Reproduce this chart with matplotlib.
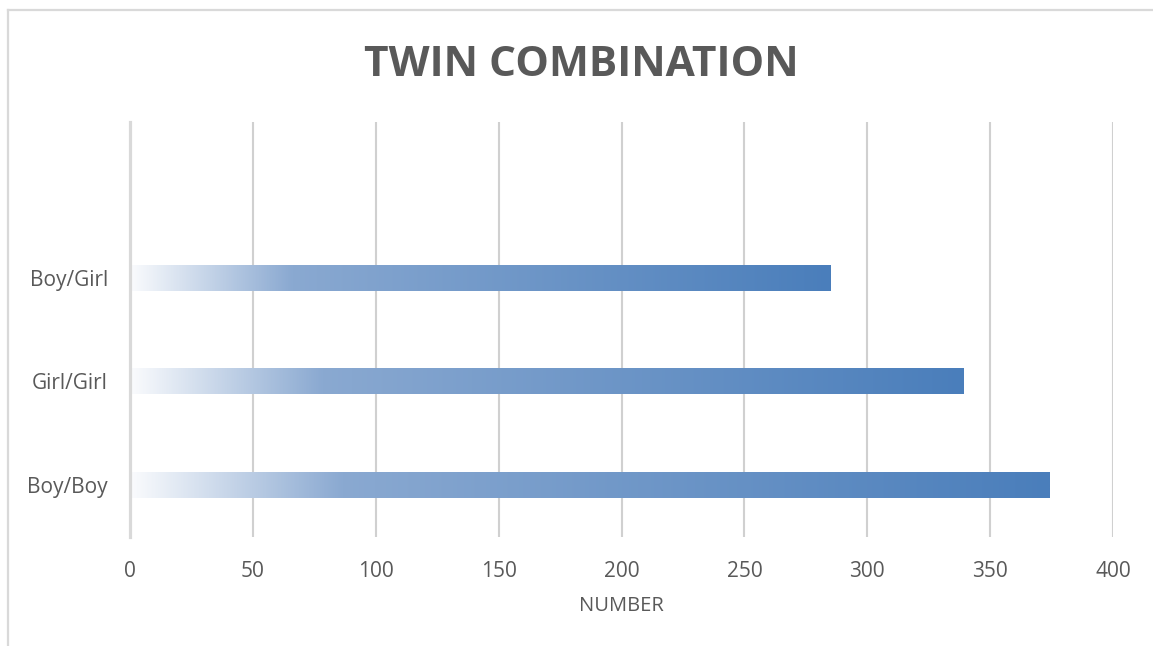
import numpy as np
import matplotlib
matplotlib.use("Agg")
import matplotlib.pyplot as plt
from matplotlib.colors import LinearSegmentedColormap
from matplotlib.lines import Line2D

# Data
categories = ["Boy/Boy", "Girl/Girl", "Boy/Girl"]
counts = [374, 339, 285]
x_ticks = [0, 50, 100, 150, 200, 250, 300, 350, 400]

W, H = 1153, 646
fig = plt.figure(figsize=(W / 100, H / 100), dpi=100)
fig.patch.set_facecolor("white")

ax = fig.add_axes([130 / W, 1 - 537 / H, (1113 - 130) / W, (537 - 122) / H])

text_color = "#595959"
font = "Open Sans"

# Bars drawn invisibly; gradient images fill them
bars = ax.barh(range(len(categories)), counts, height=0.25,
               color="none", edgecolor="none", zorder=3)

grad_cmap = LinearSegmentedColormap.from_list(
    "bar_grad",
    [(0.0, "#fafbfd"), (0.23, "#8aa9d1"), (1.0, "#4a7ebb")])
grad = np.linspace(0, 1, 512).reshape(1, -1)
for b in bars:
    x0, y0 = b.get_x(), b.get_y()
    x1, y1 = x0 + b.get_width(), y0 + b.get_height()
    ax.imshow(grad, cmap=grad_cmap, aspect="auto",
              extent=[x0, x1, y0, y1], zorder=3, interpolation="bicubic")

ax.set_xlim(0, 400)
ax.set_ylim(-0.5, 3.5)
ax.set_xticks(x_ticks)
ax.set_xticklabels([str(t) for t in x_ticks])
ax.set_yticks(range(len(categories)))
ax.set_yticklabels(categories)

# Vertical gridlines
ax.grid(axis="x", color="#d0d0d0", linewidth=1.5, zorder=1)
ax.grid(axis="y", visible=False)
ax.set_axisbelow(True)

for side in ["top", "right", "bottom"]:
    ax.spines[side].set_visible(False)
ax.spines["left"].set_color("#d9d9d9")
ax.spines["left"].set_linewidth(2.3)
ax.spines["left"].set_zorder(4)

ax.tick_params(axis="both", length=0, colors=text_color, labelsize=15)
ax.tick_params(axis="x", pad=17)
ax.tick_params(axis="y", pad=16)
for lab in ax.get_xticklabels() + ax.get_yticklabels():
    lab.set_fontfamily(font)

ax.set_facecolor("none")

# Title and axis title
fig.text(581 / W, 1 - 65 / H, "TWIN COMBINATION", ha="center", va="center",
         fontsize=30.5, fontweight="bold", color=text_color, family=font)
fig.text(621 / W, 1 - 606 / H, "NUMBER", ha="center", va="center",
         fontsize=14.5, color=text_color, family=font)

# Chart-area border (left and top edges)
fig.add_artist(Line2D([8 / W, 8 / W], [0, 1 - 10 / H], transform=fig.transFigure,
                      color="#d9d9d9", linewidth=1.6))
fig.add_artist(Line2D([8 / W, 1], [1 - 10 / H, 1 - 10 / H], transform=fig.transFigure,
                      color="#d9d9d9", linewidth=1.6))

fig.savefig("out.png", dpi=100, facecolor="white")
